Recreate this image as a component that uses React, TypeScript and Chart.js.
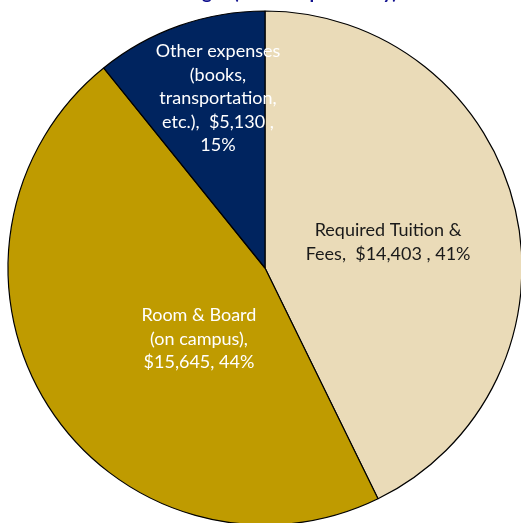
import React, { useEffect, useRef } from "react";
import { Chart, registerables } from "chart.js";

Chart.register(...registerables);

const categories = ["Required Tuition & Fees", "Room & Board (on campus)", "Other expenses"];
// slice sizes as drawn in the picture
const sliceValues = [14403, 15645, 3640];
const labelLines = [
  ["Required Tuition &", "Fees,  $14,403 , 41%"],
  ["Room & Board", "(on campus),", "$15,645, 44%"],
  ["Other expenses", "(books,", "transportation,", "etc.),  $5,130 ,", "15%"],
];
const titleText = "Annual Cost of Attendance Budget (On-Campus Study)";
const titleAnchorPrefix = "Annual Cost of Attendance Bud";

const sliceColors = ["#EADBB8", "#BF9B00", "#00245F"];
const labelColors = ["#1a1a1a", "#ffffff", "#ffffff"];
// label anchor, as fraction of radius from the pie centre
const labelAnchors = [
  [0.479, -0.1],
  [-0.257, 0.276],
  [-0.183, -0.66],
];

const labelPlugin = {
  id: "sliceLabels",
  afterDatasetsDraw(chart: any) {
    const ctx = chart.ctx;
    const meta = chart.getDatasetMeta(0);
    ctx.save();
    ctx.font = "18px Lato";
    ctx.textAlign = "center";
    ctx.textBaseline = "middle";
    const lh = 23.5;
    meta.data.forEach((arc: any, i: number) => {
      const r = arc.outerRadius;
      const cx = arc.x + labelAnchors[i][0] * r;
      const cy = arc.y + labelAnchors[i][1] * r;
      const lines = labelLines[i];
      const y0 = cy - ((lines.length - 1) * lh) / 2;
      ctx.fillStyle = labelColors[i];
      lines.forEach((t, j) => ctx.fillText(t, cx, y0 + j * lh));
    });
    ctx.restore();
  },
};

const titlePlugin = {
  id: "clippedTitle",
  afterDraw(chart: any) {
    const ctx = chart.ctx;
    ctx.save();
    ctx.font = "bold 19px Lato";
    ctx.fillStyle = "#12128F";
    ctx.textAlign = "left";
    ctx.textBaseline = "alphabetic";
    const startX = 202 - ctx.measureText(titleAnchorPrefix).width;
    ctx.fillText(titleText, startX, -1.5);
    ctx.restore();
  },
};

export default function App() {
  const ref = useRef<HTMLCanvasElement>(null);
  useEffect(() => {
    if (!ref.current) return;
    const chart = new Chart(ref.current, {
      type: "pie",
      data: {
        labels: categories,
        datasets: [
          {
            data: sliceValues,
            backgroundColor: sliceColors,
            borderColor: "#000000",
            borderWidth: 1.2,
            radius: 257,
          } as any,
        ],
      },
      options: {
        animation: false,
        responsive: false,
        maintainAspectRatio: false,
        layout: { padding: 0 },
        plugins: {
          legend: { display: false },
          title: { display: false },
          tooltip: { enabled: false },
        },
      },
      plugins: [labelPlugin, titlePlugin],
    });
    return () => chart.destroy();
  }, []);
  return (
    <div
      style={{
        position: "fixed",
        left: 0,
        top: 0,
        width: 521,
        height: 523,
        overflow: "hidden",
        background: "#ffffff",
      }}
    >
      <canvas ref={ref} width={530} height={536} style={{ display: "block", width: 530, height: 536 }} />
    </div>
  );
}
